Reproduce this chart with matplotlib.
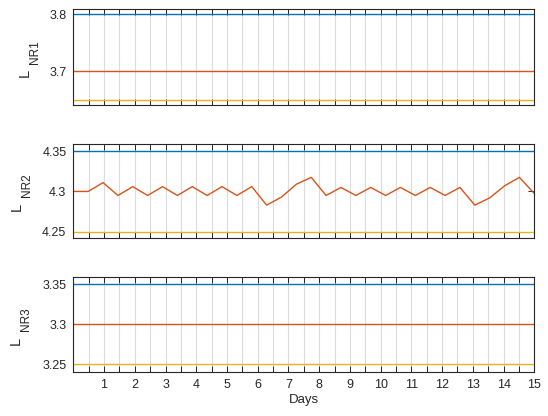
import numpy as np
import matplotlib
matplotlib.use("Agg")
import matplotlib.pyplot as plt
from matplotlib.ticker import MultipleLocator, FixedLocator

plt.rcParams['font.family'] = ['Liberation Sans', 'DejaVu Sans']

# Thresholds and readings per node over 15 days
nr1_upper = 3.80
nr1_level = 3.70
nr1_lower = 3.65

nr2_upper = 4.35
nr2_lower = 4.25
nr2_level = [4.300, 4.300, 4.311, 4.295, 4.306, 4.295, 4.306, 4.295,
             4.306, 4.295, 4.306, 4.295, 4.306, 4.283, 4.293, 4.309,
             4.3175, 4.295, 4.305, 4.295, 4.305, 4.295, 4.305, 4.295,
             4.305, 4.295, 4.305, 4.283, 4.292, 4.307, 4.3175, 4.2975]

nr3_upper = 3.35
nr3_level = 3.30
nr3_lower = 3.25

n_days = 15
days = np.linspace(0, n_days, len(nr2_level))
day_labels = [str(d) for d in range(1, n_days + 1)]

blue = '#0072BD'
orange = '#D95319'
yellow = '#EDB120'
ink = '#262626'

panels = [
    dict(name='NR1', upper=[nr1_upper] * len(days), level=[nr1_level] * len(days),
         lower=[nr1_lower] * len(days), ylim=(3.641, 3.809),
         yticks=[3.7, 3.8], yticklabels=['3.7', '3.8'],
         rect=[0.1338, 0.7476, 0.8412, 0.2300], label_x=-49),
    dict(name='NR2', upper=[nr2_upper] * len(days), level=nr2_level,
         lower=[nr2_lower] * len(days), ylim=(4.2418, 4.359),
         yticks=[4.25, 4.30, 4.35], yticklabels=['4.25', '4.3', '4.35'],
         rect=[0.1338, 0.4272, 0.8412, 0.2267], label_x=-56.5),
    dict(name='NR3', upper=[nr3_upper] * len(days), level=[nr3_level] * len(days),
         lower=[nr3_lower] * len(days), ylim=(3.240, 3.3595),
         yticks=[3.25, 3.30, 3.35], yticklabels=['3.25', '3.3', '3.35'],
         rect=[0.1338, 0.1050, 0.8412, 0.2298], label_x=-57.5),
]

PX = 0.72  # points per pixel at 100 dpi

fig = plt.figure(figsize=(5.48, 4.16), dpi=100)

for i, p in enumerate(panels):
    ax = fig.add_axes(p['rect'])
    ax.plot(days, p['upper'], color=blue, lw=1.0)
    ax.plot(days, p['level'], color=orange, lw=1.0)
    ax.plot(days, p['lower'], color=yellow, lw=1.0)

    ax.set_xlim(0, n_days)
    ax.set_ylim(*p['ylim'])
    ax.set_yticks(p['yticks'])
    ax.set_yticklabels(p['yticklabels'])

    ax.xaxis.set_major_locator(FixedLocator(range(1, n_days + 1)))
    ax.xaxis.set_minor_locator(MultipleLocator(0.5))
    ax.grid(True, axis='x', which='both', color='#dcdcdc', lw=0.8)
    ax.set_axisbelow(True)

    ax.tick_params(which='both', direction='in', top=True, right=True,
                   length=4, width=0.7, color=ink,
                   labelsize=9, labelcolor=ink, pad=5)
    if i < 2:
        ax.set_xticklabels([])
    else:
        ax.set_xticklabels(day_labels)
        ax.set_xlabel('Days', fontsize=9.5, color=ink, labelpad=2)

    for sp in ax.spines.values():
        sp.set_color(ink)
        sp.set_linewidth(0.8)

    # y label: "L" with a subscript node name, set as two rotated texts
    lx = p['label_x']
    ax.annotate('L', xy=(0, 0.5), xycoords='axes fraction',
                xytext=(lx * PX, -16 * PX), textcoords='offset points',
                rotation=90, ha='center', va='center', fontsize=10.5, color=ink)
    ax.annotate(p['name'], xy=(0, 0.5), xycoords='axes fraction',
                xytext=((lx + 10.5) * PX, 5.5 * PX), textcoords='offset points',
                rotation=90, ha='center', va='center', fontsize=8.5, color=ink)

fig.savefig('out.png', dpi=100, facecolor='white')
